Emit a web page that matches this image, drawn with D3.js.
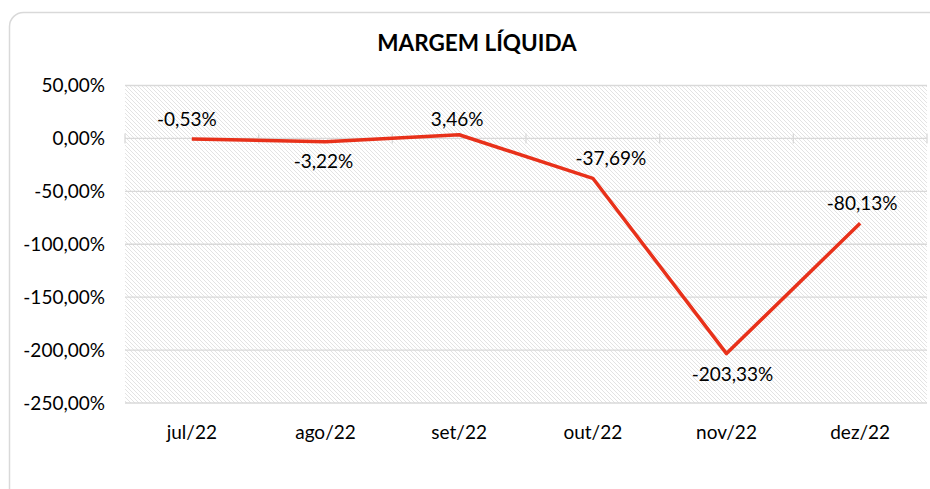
<!DOCTYPE html>
<html>
<head>
<meta charset="utf-8">
<script src="https://cdn.jsdelivr.net/npm/d3@7"></script>
<style>
  body { margin: 0; background: #fff; }
  text { font-family: Lato, "Noto Sans", sans-serif; fill: #000; }
</style>
</head>
<body>
<div id="wrapper"></div>
<script>
// Chart data
const months = ["jul/22", "ago/22", "set/22", "out/22", "nov/22", "dez/22"];
const margins = [-0.53, -3.22, 3.46, -37.69, -203.33, -80.13];
// label offsets from the point (negative dy = above)
const labelDy = [-19.5, 20, -15, -20, 20.5, -19.5];
const labelDx = [-5, -2, -2, 18, 6, 2];
const yTicks = [50, 0, -50, -100, -150, -200, -250];

const width = 930, height = 489;
const plot = { left: 125, right: 927, top: 85.5, bottom: 403 };

const svg = d3.select("#wrapper")
  .append("svg")
  .attr("width", width)
  .attr("height", height);

// Frame
svg.append("rect")
  .attr("x", 9.5).attr("y", 12.5)
  .attr("width", 940).attr("height", 500)
  .attr("rx", 14)
  .attr("fill", "#fff")
  .attr("stroke", "#d9d9d9")
  .attr("stroke-width", 1.5);

// Hatch pattern for the plot area
const pat = svg.append("defs").append("pattern")
  .attr("id", "hatch")
  .attr("patternUnits", "userSpaceOnUse")
  .attr("width", 4).attr("height", 4);
pat.append("rect").attr("width", 4).attr("height", 4).attr("fill", "#fff");
pat.append("path")
  .attr("d", "M-1,-1 L5,5 M-1,3 L1,5 M3,-1 L5,1")
  .attr("stroke", "#e0e0e0")
  .attr("stroke-width", 0.9);

const x = d3.scaleBand().domain(months).range([plot.left, plot.right]);
const y = d3.scaleLinear().domain([-250, 50]).range([plot.bottom, plot.top]);

const loc = d3.formatLocale({ decimal: ",", thousands: ".", grouping: [3], currency: ["R$", ""], minus: "-" });
const fmt = loc.format(".2f");

svg.append("rect")
  .attr("x", plot.left).attr("y", plot.top)
  .attr("width", plot.right - plot.left)
  .attr("height", plot.bottom - plot.top)
  .attr("fill", "url(#hatch)");

// Gridlines
svg.append("g")
  .selectAll("line")
  .data(yTicks)
  .enter()
  .append("line")
    .attr("x1", plot.left).attr("x2", plot.right)
    .attr("y1", d => y(d)).attr("y2", d => y(d))
    .attr("stroke", "#d9d9d9")
    .attr("stroke-width", 1.3);

// Category ticks on the zero line
svg.append("g")
  .selectAll("line")
  .data(months.concat(["end"]))
  .enter()
  .append("line")
    .attr("x1", (d, i) => plot.left + i * x.bandwidth())
    .attr("x2", (d, i) => plot.left + i * x.bandwidth())
    .attr("y1", y(0) - 5).attr("y2", y(0) + 5)
    .attr("stroke", "#d9d9d9")
    .attr("stroke-width", 1.3);

// Y axis labels
svg.append("g")
  .selectAll("text")
  .data(yTicks)
  .enter()
  .append("text")
    .attr("x", 105)
    .attr("y", d => y(d))
    .attr("dy", "0.35em")
    .attr("text-anchor", "end")
    .style("font-size", "19px")
    .text(d => fmt(d) + "%");

// X axis labels
svg.append("g")
  .selectAll("text")
  .data(months)
  .enter()
  .append("text")
    .attr("x", d => x(d) + x.bandwidth() / 2)
    .attr("y", 432)
    .attr("dy", "0.35em")
    .attr("text-anchor", "middle")
    .style("font-size", "19px")
    .text(d => d);

// Line
const line = d3.line()
  .x((d, i) => x(months[i]) + x.bandwidth() / 2)
  .y(d => y(d));

svg.append("path")
  .datum(margins)
  .attr("d", line)
  .attr("fill", "none")
  .attr("stroke", "#e8311a")
  .attr("stroke-width", 3.5)
  .attr("stroke-linejoin", "round");

// Data labels
svg.append("g")
  .selectAll("text")
  .data(margins)
  .enter()
  .append("text")
    .attr("x", (d, i) => x(months[i]) + x.bandwidth() / 2 + labelDx[i])
    .attr("y", (d, i) => y(d) + labelDy[i])
    .attr("dy", "0.35em")
    .attr("text-anchor", "middle")
    .style("font-size", "19px")
    .text(d => fmt(d) + "%");

// Title
svg.append("text")
  .attr("x", 477)
  .attr("y", 43)
  .attr("dy", "0.35em")
  .attr("text-anchor", "middle")
  .style("font-size", "22.5px")
  .style("font-weight", "bold")
  .text("MARGEM LÍQUIDA");
</script>
</body>
</html>
